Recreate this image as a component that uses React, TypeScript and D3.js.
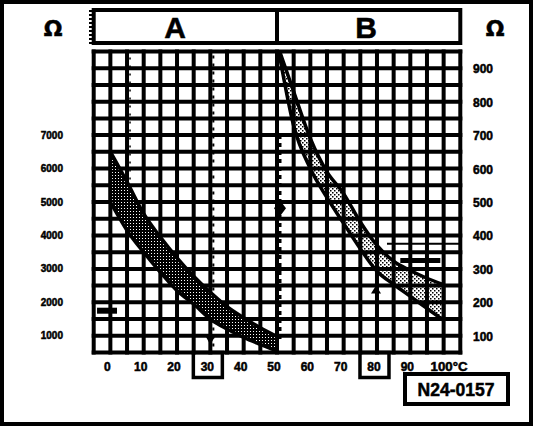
import React from 'react';
import * as d3 from 'd3';

const W = 544;
const H = 428;

// Temperature axis (°C)
const tempTicks = [0, 10, 20, 30, 40, 50, 60, 70, 80, 90, 100];
const tempLabels = ['0', '10', '20', '30', '40', '50', '60', '70', '80', '90', '100°C'];
const boxedTemps = [30, 80];

// Resistance axes (Ω): left for range A, right for range B
const ohmLeftTicks = [1000, 2000, 3000, 4000, 5000, 6000, 7000];
const ohmRightTicks = [100, 200, 300, 400, 500, 600, 700, 800, 900];

// Range A: 0–50 °C, tolerance band on the left Ω scale
const tempA = [0, 5, 10, 15, 20, 25, 30, 35, 40, 45, 50];
const upperA = [6500, 5600, 4650, 3950, 3330, 2780, 2300, 1870, 1540, 1240, 980];
const lowerA = [5000, 4150, 3500, 2900, 2350, 1950, 1500, 1200, 950, 740, 540];

// Range B: 51–100 °C, tolerance band on the right Ω scale
const tempB = [51, 55, 60, 65, 70, 75, 80, 85, 90, 95, 100];
const upperB = [945, 830, 690, 590, 525, 440, 370, 323, 295, 272, 253];
const lowerB = [925, 728, 600, 513, 436, 360, 293, 254, 218, 182, 146];

// Reference marks on range B
const refOhmB = [375, 325];

const FONT = '"Liberation Sans", Arial, sans-serif';
const heavy = { stroke: '#000', strokeWidth: 0.5 };

export default function App() {
  const x = d3.scaleLinear().domain([-5, 105]).range([93.7, 460.3]);
  const yL = d3.scaleLinear().domain([500, 9500]).range([352.5, 51.5]);
  const yR = d3.scaleLinear().domain([50, 950]).range([352.5, 51.5]);

  const gridT = d3.range(-5, 106, 5);
  const gridV = d3.range(500, 9501, 500);

  const bandA = d3
    .area<number>()
    .x((_, i) => x(tempA[i]))
    .y0((_, i) => yL(lowerA[i]))
    .y1((_, i) => yL(upperA[i]))
    .curve(d3.curveMonotoneX);
  const bandB = d3
    .area<number>()
    .x((_, i) => x(tempB[i]))
    .y0((_, i) => yR(lowerB[i]))
    .y1((_, i) => yR(upperB[i]))
    .curve(d3.curveMonotoneX);

  const left = x(-5);
  const right = x(105);
  const top = yL(9500);
  const bottom = yL(500);
  const x50 = x(50);

  return (
    <svg
      width={W}
      height={H}
      viewBox={`0 0 ${W} ${H}`}
      style={{ position: 'absolute', left: 0, top: 0, background: '#fff' }}
    >
      <defs>
        <pattern id="stipA" width={3} height={3} patternUnits="userSpaceOnUse">
          <rect x={0} y={0} width={3} height={3} fill="#000" />
          <rect x={1} y={1} width={1} height={1} fill="#fff" />
        </pattern>
        <pattern id="stipB" width={4} height={4} patternUnits="userSpaceOnUse">
          <rect x={0} y={0} width={1.5} height={1.5} fill="#000" />
          <rect x={2} y={2} width={1.5} height={1.5} fill="#000" />
        </pattern>
      </defs>

      {/* outer frame */}
      <rect x={2} y={2} width={529} height={422} fill="none" stroke="#000" strokeWidth={4} />

      {/* header with range names */}
      <rect x={left} y={10} width={right - left} height={33} fill="none" stroke="#000" strokeWidth={4} />
      <line x1={x50} x2={x50} y1={10} y2={43} stroke="#000" strokeWidth={4} />
      {d3.range(10, 43, 4).map((yy) => (
        <rect key={yy} x={89} y={yy} width={3} height={2} fill="#000" />
      ))}
      <text x={175} y={27} fontFamily={FONT} fontWeight="bold" fontSize={30} textAnchor="middle" dominantBaseline="central" {...heavy}>A</text>
      <text x={366} y={27} fontFamily={FONT} fontWeight="bold" fontSize={30} textAnchor="middle" dominantBaseline="central" {...heavy}>B</text>

      {/* unit symbols */}
      <text x={53} y={28} fontFamily="'DejaVu Sans', sans-serif" fontWeight="bold" fontSize={22} textAnchor="middle" dominantBaseline="central" {...heavy}>Ω</text>
      <text x={495} y={28} fontFamily="'DejaVu Sans', sans-serif" fontWeight="bold" fontSize={22} textAnchor="middle" dominantBaseline="central" {...heavy}>Ω</text>

      {/* grid */}
      {gridT.map((t) => (
        <line key={'v' + t} x1={x(t)} x2={x(t)} y1={top - 2} y2={bottom + 2} stroke="#000" strokeWidth={4} />
      ))}
      {gridV.map((v) => (
        <line key={'h' + v} x1={left - 2} x2={right + 2} y1={yL(v)} y2={yL(v)} stroke="#000" strokeWidth={4} />
      ))}

      {/* dotted guide lines */}
      <line x1={x(5) + 3} x2={x(5) + 3} y1={top + 6} y2={yL(4000)} stroke="#000" strokeWidth={1.5} strokeDasharray="2 6" />
      <line x1={x(30) + 3} x2={x(30) + 3} y1={top + 4} y2={bottom - 6} stroke="#000" strokeWidth={2} strokeDasharray="3 5" />
      <line x1={x50 + 3} x2={x50 + 3} y1={yR(700)} y2={yR(80)} stroke="#000" strokeWidth={3} strokeDasharray="4 4" />

      {/* tolerance bands */}
      <path d={bandA(tempA) || ''} fill="url(#stipA)" stroke="#000" strokeWidth={3.5} strokeLinejoin="round" />
      <path d={bandB(tempB) || ''} fill="url(#stipB)" stroke="#000" strokeWidth={3.5} strokeLinejoin="round" />

      {/* reference marks, range B */}
      <line x1={x(83)} x2={right} y1={yR(refOhmB[0])} y2={yR(refOhmB[0])} stroke="#000" strokeWidth={2} />
      <line x1={x(87)} x2={x(99)} y1={yR(refOhmB[1])} y2={yR(refOhmB[1])} stroke="#000" strokeWidth={5} />
      <path d={`M${x50 + 3},${yR(505)} l6,8 l-6,8 l-6,-8 Z`} fill="#000" />
      <path d={`M${x(80) - 1},${yR(250)} l5,8 l-10,0 Z`} fill="#000" />

      {/* reference marks, range A */}
      <line x1={x(-4)} x2={x(2)} y1={yL(1750)} y2={yL(1750)} stroke="#000" strokeWidth={6} />
      <path d={`M${x(30) - 5},${yL(1000)} l10,0 l-5,9 Z`} fill="#000" />

      {/* left Ω labels */}
      {ohmLeftTicks.map((v) => (
        <text key={'l' + v} x={63} y={yL(v)} fontFamily={FONT} fontWeight="bold" fontSize={10} textAnchor="end" dominantBaseline="central" {...heavy}>
          {v}
        </text>
      ))}

      {/* right Ω labels */}
      {ohmRightTicks.map((v) => (
        <text key={'r' + v} x={473} y={yR(v) + 1} fontFamily={FONT} fontWeight="bold" fontSize={12} textAnchor="start" dominantBaseline="central" {...heavy}>
          {v}
        </text>
      ))}

      {/* temperature labels */}
      {tempTicks.map((t, i) =>
        t === 100 ? (
          <text key={'t' + t} x={x(t) - 13} y={367} fontFamily={FONT} fontWeight="bold" fontSize={12} textAnchor="start" dominantBaseline="central" textLength={37} lengthAdjust="spacingAndGlyphs" {...heavy}>
            {tempLabels[i]}
          </text>
        ) : (
          <text key={'t' + t} x={x(t) - 3} y={367} fontFamily={FONT} fontWeight="bold" fontSize={12} textAnchor="middle" dominantBaseline="central" {...heavy}>
            {tempLabels[i]}
          </text>
        )
      )}
      {boxedTemps.map((t) => (
        <rect key={'b' + t} x={x(t) - 17} y={bottom} width={29} height={25} fill="none" stroke="#000" strokeWidth={3.5} />
      ))}

      {/* figure code */}
      <rect x={405} y={374} width={103} height={30} fill="none" stroke="#000" strokeWidth={4} />
      <text x={456} y={390} fontFamily={FONT} fontWeight="bold" fontSize={18} textAnchor="middle" dominantBaseline="central" textLength={77} lengthAdjust="spacingAndGlyphs" {...heavy}>
        N24-0157
      </text>
    </svg>
  );
}
